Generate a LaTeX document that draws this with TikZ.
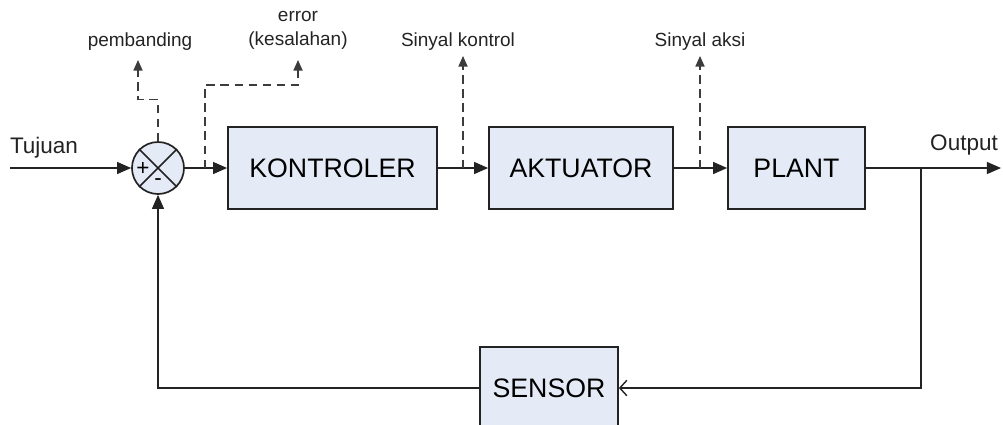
\documentclass[tikz,border=0pt]{standalone}
\usepackage{fontspec}
\setmainfont{Liberation Sans}
\usetikzlibrary{arrows.meta,positioning}
\definecolor{boxfill}{RGB}{228,235,246}
\definecolor{lineclr}{RGB}{35,35,35}
\definecolor{dashclr}{RGB}{60,60,60}
\tikzset{
	blok/.style={draw=lineclr, line width=1.2pt, fill=boxfill, minimum height=2.05cm, inner sep=0pt, font=\fontsize{19}{22}\selectfont},
	sinyal/.style={draw=lineclr, line width=1pt, -{Triangle[length=10pt,width=8.5pt]}},
	ukur/.style={draw=dashclr, line width=0.9pt, dash pattern=on 6pt off 4pt, -{Triangle[length=7.5pt,width=6.5pt]}},
	keterangan/.style={font=\fontsize{13.5}{17}\selectfont, text=lineclr, align=center, inner sep=0pt},
	judul/.style={font=\fontsize{16}{19}\selectfont, text=lineclr, inner sep=0pt},
}
\begin{document}
\begin{tikzpicture}[x=0.025cm, y=-0.025cm]
	\useasboundingbox (0,0) rectangle (1003,424);
	\clip (0,0) rectangle (1003,424);
	
	% blok-blok
	\node[blok, minimum width=5.225cm] (kontroler) at (332.5,168) {KONTROLER};
	\node[blok, minimum width=4.6cm] (aktuator) at (581,168) {AKTUATOR};
	\node[blok, minimum width=3.425cm] (plant) at (796.5,168) {PLANT};
	\node[blok, minimum width=3.45cm] (sensor) at (549,388) {SENSOR};
	
	% pembanding
	\node[circle, draw=lineclr, line width=1.2pt, fill=boxfill, minimum size=1.3cm, inner sep=0pt] (sum) at (158,168) {};
	\draw[lineclr, line width=1.2pt] (sum.north west) -- (sum.south east) (sum.north east) -- (sum.south west);
	\node[font=\fontsize{16}{18}\selectfont, inner sep=0pt] (plus) at (143,169) {+};
	\node[font=\fontsize{16}{18}\selectfont, inner sep=0pt] (minus) at (158,182) {-};
	
	% titik bantu
	\coordinate (masuk) at (10,168);
	\coordinate (keluar) at (1001,168);
	\coordinate (cabang) at (921,168);
	\coordinate (tapErr) at (205,168);
	\coordinate (tapKtr) at (463,168);
	\coordinate (tapAks) at (700,168);
	\coordinate (tipPb) at (138,60);
	\coordinate (tipErr) at (298,60);
	\coordinate (tipKtr) at (463,56);
	\coordinate (tipAks) at (700,56);
	
	% jalur utama
	\draw[sinyal] (masuk) -- (sum.west);
	\draw[sinyal] (sum.east) -- (kontroler.west);
	\draw[sinyal] (kontroler.east) -- (aktuator.west);
	\draw[sinyal] (aktuator.east) -- (plant.west);
	\draw[sinyal] (plant.east) -- (keluar);
	
	% umpan balik
	\draw[lineclr, line width=1pt, -{Straight Barb[length=5pt,width=11pt]}] (cabang) |- (sensor.east);
	\draw[sinyal] (sensor.west) -| (sum.south);
	
	% garis putus-putus
	\draw[ukur] (sum.north) -- ++(0,-42) -| (tipPb);
	\draw[ukur] (tapErr) -- ++(0,-83) -| (tipErr);
	\draw[ukur] (tapKtr) -- (tipKtr);
	\draw[ukur] (tapAks) -- (tipAks);
	
	% label
	\node[judul] (lblTujuan) at (44,148) {Tujuan};
	\node[judul] (lblOutput) at (964,145) {Output};
	\node[keterangan] (lblPb) at (140,42) {pembanding};
	\node[keterangan] (lblErr) at (298,30) {error\\(kesalahan)};
	\node[keterangan] (lblKtr) at (458,42) {Sinyal kontrol};
	\node[keterangan] (lblAks) at (700,42) {Sinyal aksi};
\end{tikzpicture}
\end{document}
